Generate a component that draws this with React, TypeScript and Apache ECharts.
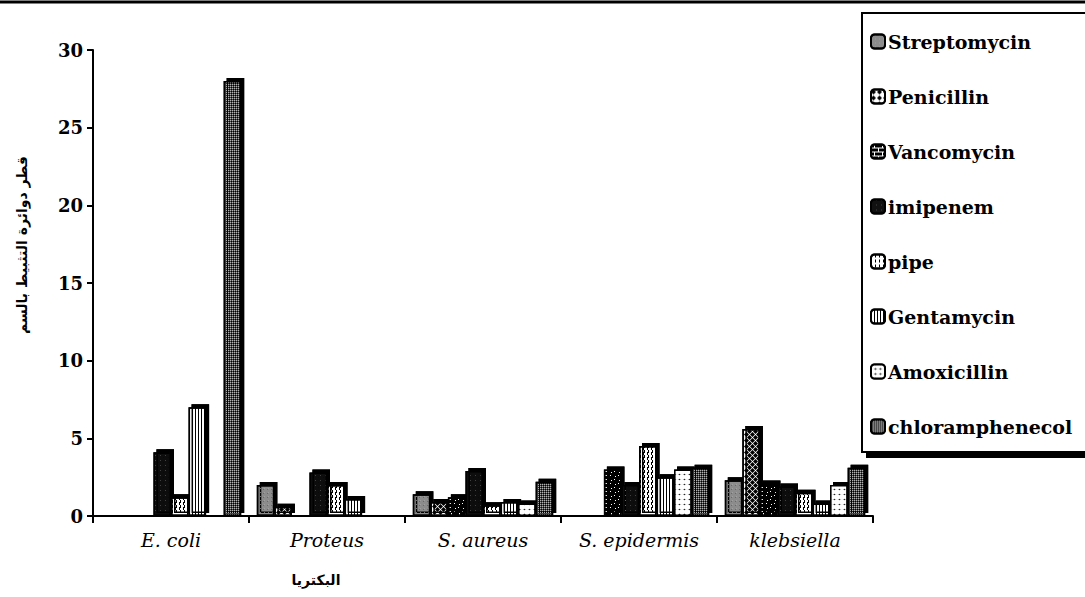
import React, { useEffect, useRef } from "react";
import * as echarts from "echarts";

const categories = ["E. coli", "Proteus", "S. aureus", "S. epidermis", "klebsiella"];
const seriesNames = ["Streptomycin", "Penicillin", "Vancomycin", "imipenem", "pipe", "Gentamycin", "Amoxicillin", "chloramphenecol"];
const streptomycin = [0.1, 2.0, 1.4, 0.1, 2.3];
const penicillin = [0.1, 0.6, 0.9, 0.1, 5.6];
const vancomycin = [0.1, 0.1, 1.2, 3.0, 2.1];
const imipenem = [4.1, 2.8, 2.9, 2.0, 1.9];
const pipe = [1.2, 2.0, 0.7, 4.5, 1.5];
const gentamycin = [7.0, 1.1, 0.9, 2.5, 0.8];
const amoxicillin = [0.1, 0.1, 0.8, 3.0, 2.0];
const chloramphenecol = [28.0, 0.1, 2.2, 3.1, 3.1];
const yTitle = "قطر دوائرة التثبيط بالسم";
const xTitle = "البكتريا";

const values = [streptomycin, penicillin, vancomycin, imipenem, pipe, gentamycin, amoxicillin, chloramphenecol];

const styles: any[] = [
  { color: "#8c8c8c", decal: { symbol: "rect", symbolSize: 0.5, color: "#dcdcdc", dashArrayX: [1, 3], dashArrayY: [1, 3] } },
  { color: "#ffffff", decal: { symbol: "diamond", symbolSize: 1, color: "#000", dashArrayX: [5, 1], dashArrayY: [5, 1] } },
  { color: "#ffffff", decal: { symbol: "rect", symbolSize: 1, color: "#000", dashArrayX: [[7, 1], [3, 1, 4, 0]], dashArrayY: [3, 1] } },
  { color: "#111111", decal: { symbol: "rect", symbolSize: 0.6, color: "#bbbbbb", dashArrayX: [1, 4], dashArrayY: [1, 4] } },
  { color: "#ffffff", decal: { symbol: "rect", symbolSize: 1, color: "#000", dashArrayX: [1, 3], dashArrayY: [3, 2] } },
  { color: "#ffffff", decal: { symbol: "rect", symbolSize: 1, color: "#000", dashArrayX: [1, 2], dashArrayY: [4, 0] } },
  { color: "#1a1a1a", decal: { symbol: "emptyCircle", symbolSize: 1, color: "#ffffff", dashArrayX: [4, 1], dashArrayY: [4, 1] } },
  { color: "#4a4a4a", decal: { symbol: "rect", symbolSize: 1, color: "#b0b0b0", dashArrayX: [1, 1], dashArrayY: [1, 1] } },
];

export default function App() {
  const ref = useRef<HTMLDivElement>(null);
  useEffect(() => {
    if (!ref.current) return;
    const chart = echarts.init(ref.current, null, { renderer: "svg" });
    const wideSerif = "DejaVu Serif";
    chart.setOption({
      animation: false,
      backgroundColor: "#ffffff",
      grid: { left: 93, right: 212, top: 50, bottom: 81, containLabel: false, outerBoundsMode: "none" },
      graphic: [
        { type: "line", shape: { x1: 0, y1: 2, x2: 1085, y2: 2 }, style: { stroke: "#000", lineWidth: 3 } },
        {
          type: "text", x: 22, y: 245, rotation: Math.PI / 2,
          style: { text: yTitle, fontFamily: "DejaVu Sans", fontWeight: "bold", fontSize: 14, fill: "#000", align: "center", verticalAlign: "middle" },
        },
        {
          type: "text", x: 316, y: 580,
          style: { text: xTitle, fontFamily: "DejaVu Sans", fontWeight: "bold", fontSize: 14, fill: "#000", align: "center", verticalAlign: "middle" },
        },
      ],
      legend: {
        orient: "vertical",
        left: 862,
        top: 13,
        padding: [19, 80, 16, 8],
        itemGap: 36,
        itemWidth: 14,
        itemHeight: 14,
        backgroundColor: "#ffffff",
        borderColor: "#000",
        borderWidth: 2,
        shadowColor: "#000",
        shadowOffsetX: 5,
        shadowOffsetY: 5,
        shadowBlur: 0,
        textStyle: { fontFamily: wideSerif, fontWeight: "bold", fontSize: 19, color: "#000", padding: [0, 0, 0, -2] },
        data: seriesNames,
      },
      xAxis: {
        type: "category",
        data: categories,
        axisLine: { lineStyle: { color: "#000", width: 2 } },
        axisTick: { show: true, interval: 0, length: 7, lineStyle: { color: "#000", width: 2 } },
        axisLabel: { interval: 0, hideOverlap: false, fontFamily: wideSerif, fontStyle: "italic", fontSize: 19, color: "#000", margin: 14 },
      },
      yAxis: {
        type: "value",
        min: 0,
        max: 30,
        interval: 5,
        axisLine: { show: true, lineStyle: { color: "#000", width: 2 } },
        axisTick: { show: true, length: 6, lineStyle: { color: "#000", width: 2 } },
        splitLine: { show: false },
        axisLabel: { fontFamily: wideSerif, fontWeight: "bold", fontSize: 18, color: "#000", margin: 10 },
      },
      series: seriesNames.map((name, i) => ({
        name,
        type: "bar",
        data: values[i],
        barGap: "0%",
        barCategoryGap: "10%",
        itemStyle: {
          color: styles[i].color,
          decal: styles[i].decal,
          borderColor: "#000",
          borderWidth: 1.5,
          shadowColor: "#000",
          shadowOffsetX: 3,
          shadowOffsetY: -3,
          shadowBlur: 0,
        },
      })),
    });
    return () => chart.dispose();
  }, []);
  return <div ref={ref} style={{ width: 1085, height: 597, position: "absolute", left: 0, top: 0 }} />;
}
